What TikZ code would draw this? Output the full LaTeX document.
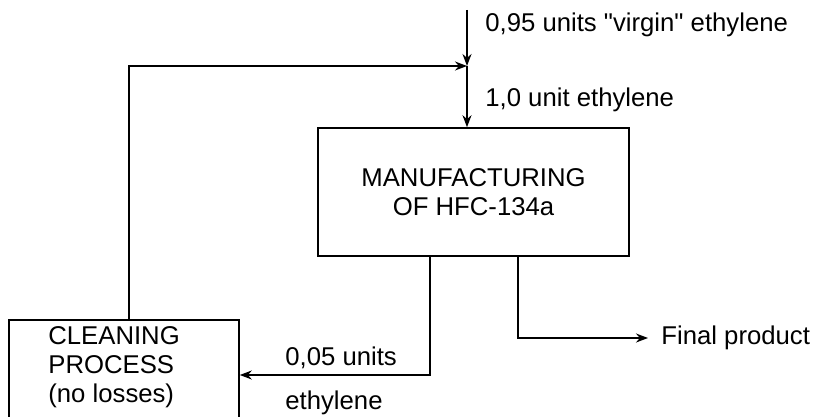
\documentclass[tikz,border=0pt]{standalone}
\usepackage{fontspec}
\setmainfont{Liberation Sans}
\newfontfamily\diafont{Liberation Sans}
\usetikzlibrary{arrows.meta,positioning}
\tikzset{
  box/.style={draw,line width=0.8pt,inner sep=0pt},
  lbl/.style={anchor=west,inner sep=0pt,font=\diafont\fontsize{12.85}{14.5}\selectfont},
  flow/.style={line width=0.8pt,-{Stealth[length=6pt,width=4.5pt]}}
}
\begin{document}
\begin{tikzpicture}[x=0.5pt,y=-0.5pt]
  \clip (0,0) rectangle (819,417);
  % Kaesten
  \node[box,minimum width=155.5pt,minimum height=64pt,align=center,
        font=\diafont\fontsize{12.85}{14.5}\selectfont] (manuf) at (473.5,192) {MANUFACTURING\\OF HFC-134a};
  \node[box,minimum width=115pt,minimum height=60pt] (clean) at (124,380) {};
  \node[lbl,align=left] (cleanlbl) at (48,367) {CLEANING\\PROCESS\\(no losses)};
  % Zulauf und Rueckfuehrung
  \coordinate (src) at (467,10);
  \coordinate (junc) at (467,66);
  \draw[flow] (src) -- (junc);
  \draw[flow] ([xshift=2.5pt]clean.north) |- (junc);
  \draw[flow] (junc) -- (junc |- manuf.north);
  \draw[flow] ([xshift=-21.75pt]manuf.south) |- ([yshift=2.5pt]clean.east);
  % Produkt
  \node[lbl,inner xsep=6.5pt] (prod) at (648,338) {Final product};
  \draw[flow] ([xshift=22.25pt]manuf.south) |- (prod.west);
  % Beschriftungen
  \node[lbl] (virgin) at (485,25) {0,95 units "virgin" ethylene};
  \node[lbl] (feed) at (485,100) {1,0 unit ethylene};
  \node[lbl] (recyc) at (285,358) {0,05 units};
  \node[lbl] (recyceth) at (285,403) {ethylene};
\end{tikzpicture}
\end{document}
